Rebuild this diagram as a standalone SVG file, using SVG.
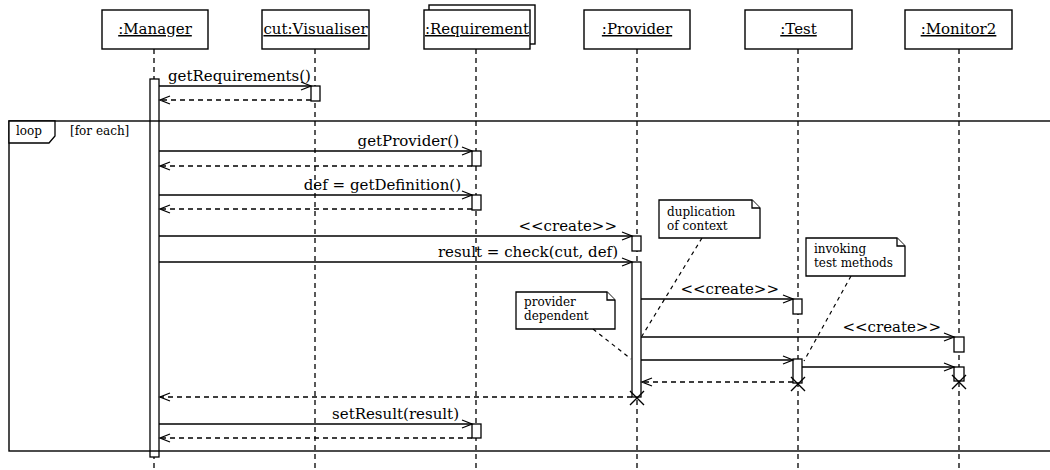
<svg xmlns="http://www.w3.org/2000/svg" width="1050" height="470" viewBox="0 0 1050 470">
<style>
.box{fill:#fff;stroke:#000;stroke-width:1.4}
.head{font-family:"DejaVu Serif",serif;font-size:15px;text-anchor:middle;text-decoration:underline}
.life{stroke:#000;stroke-width:1.3;stroke-dasharray:5,4;fill:none}
.act{fill:#fff;stroke:#000;stroke-width:1.3}
.msg{stroke:#000;stroke-width:1.3;fill:none;marker-end:url(#open)}
.ret{stroke:#000;stroke-width:1.3;fill:none;stroke-dasharray:5,4;marker-end:url(#open)}
.lbl{font-family:"DejaVu Serif",serif;font-size:15px;text-anchor:end}
.small{font-family:"DejaVu Serif",serif;font-size:12px}
.note{fill:#fff;stroke:#000;stroke-width:1.3}
.nl{stroke:#000;stroke-width:1.2;stroke-dasharray:4,4;fill:none}
.x{stroke:#000;stroke-width:1.4;fill:none}
</style>
<defs>
<marker id="open" markerUnits="userSpaceOnUse" markerWidth="12" markerHeight="10" refX="10" refY="4" orient="auto" overflow="visible">
<path d="M0,0 L10,4 L0,8" fill="none" stroke="#000" stroke-width="1.3"/>
</marker>
</defs>
<rect width="1050" height="470" fill="#fff"/>

<g id="manager">
<line class="life" x1="154" y1="49" x2="154" y2="470"/>
<rect class="box" x="102" y="10" width="106" height="39"/>
<text class="head" x="155" y="34">:Manager</text>
<rect class="act" x="150" y="79" width="9" height="378"/>
</g>
<g id="visualiser">
<line class="life" x1="315" y1="49" x2="315" y2="470"/>
<rect class="box" x="262" y="10" width="107" height="39"/>
<text class="head" x="315.5" y="34">cut:Visualiser</text>
<rect class="act" x="311" y="86" width="9" height="15"/>
</g>
<g id="requirement">
<line class="life" x1="476" y1="49" x2="476" y2="470"/>
<rect class="box" x="429" y="5" width="106" height="39"/>
<rect class="box" x="424" y="10" width="106" height="39"/>
<text class="head" x="477" y="34">:Requirement</text>
<rect class="act" x="472" y="151" width="9" height="15"/>
<rect class="act" x="472" y="195" width="9" height="15"/>
<rect class="act" x="472" y="424" width="9" height="14"/>
</g>
<g id="provider">
<line class="life" x1="637" y1="49" x2="637" y2="470"/>
<rect class="box" x="584" y="10" width="106" height="39"/>
<text class="head" x="637" y="34">:Provider</text>
<rect class="act" x="632" y="236" width="9" height="15"/>
<rect class="act" x="632" y="262" width="9" height="135"/>
<path class="x" d="M630,391 L644,405 M644,391 L630,405"/>
</g>
<g id="test">
<line class="life" x1="798" y1="49" x2="798" y2="470"/>
<rect class="box" x="745" y="10" width="107" height="39"/>
<text class="head" x="798.5" y="34">:Test</text>
<rect class="act" x="793" y="299" width="9" height="15"/>
<rect class="act" x="793" y="359" width="9" height="24"/>
<path class="x" d="M791,377 L805,391 M805,377 L791,391"/>
</g>
<g id="monitor2">
<line class="life" x1="959" y1="49" x2="959" y2="470"/>
<rect class="box" x="905" y="10" width="107" height="39"/>
<text class="head" x="958.5" y="34">:Monitor2</text>
<rect class="act" x="954" y="337" width="10" height="15"/>
<rect class="act" x="954" y="367" width="10" height="14"/>
<path class="x" d="M952,375 L966,389 M966,375 L952,389"/>
</g>

<g id="loop">
<rect x="9" y="121" width="1060" height="330" fill="none" stroke="#000" stroke-width="1.4"/>
<path d="M9,121 H55 V136 L49,143 H9 Z" fill="#fff" stroke="#000" stroke-width="1.3"/>
<text class="small" x="16" y="135">loop</text>
<text class="small" x="70" y="135">[for each]</text>
</g>

<g id="connectors">
<line class="msg" x1="159" y1="86" x2="311" y2="86"/>
<text class="lbl" x="168" y="81" style="text-anchor:start">getRequirements()</text>
<line class="ret" x1="311" y1="100" x2="160" y2="100"/>
<line class="msg" x1="159" y1="151" x2="472" y2="151"/>
<text class="lbl" x="459" y="146">getProvider()</text>
<line class="ret" x1="472" y1="166" x2="160" y2="166"/>
<line class="msg" x1="159" y1="195" x2="472" y2="195"/>
<text class="lbl" x="461" y="190">def = getDefinition()</text>
<line class="ret" x1="472" y1="209" x2="160" y2="209"/>
<line class="msg" x1="159" y1="236" x2="632" y2="236"/>
<text class="lbl" x="617" y="231">&lt;&lt;create&gt;&gt;</text>
<line class="msg" x1="159" y1="262" x2="632" y2="262"/>
<text class="lbl" x="618" y="257">result = check(cut, def)</text>
<line class="msg" x1="641" y1="299" x2="793" y2="299"/>
<text class="lbl" x="779" y="294">&lt;&lt;create&gt;&gt;</text>
<line class="msg" x1="641" y1="337" x2="954" y2="337"/>
<text class="lbl" x="941" y="332">&lt;&lt;create&gt;&gt;</text>
<line class="msg" x1="641" y1="360" x2="793" y2="360"/>
<line class="msg" x1="802" y1="367" x2="954" y2="367"/>
<line class="ret" x1="793" y1="382" x2="642" y2="382"/>
<line class="ret" x1="632" y1="397" x2="160" y2="397"/>
<line class="msg" x1="159" y1="424" x2="472" y2="424"/>
<text class="lbl" x="459" y="419">setResult(result)</text>
<line class="ret" x1="472" y1="438" x2="160" y2="438"/>
<line class="nl" x1="702" y1="238" x2="642" y2="336"/>
<line class="nl" x1="851" y1="276" x2="804" y2="361"/>
<line class="nl" x1="593" y1="329" x2="631" y2="359"/>
</g>

<g id="note-duplication">
<path class="note" d="M659,200 H752 L760,208 V238 H659 Z"/>
<path class="note" d="M752,200 V208 H760" fill="none"/>
<text class="small" x="667" y="216">duplication</text>
<text class="small" x="667" y="230">of context</text>
</g>
<g id="note-invoking">
<path class="note" d="M806,238 H897 L905,246 V276 H806 Z"/>
<path class="note" d="M897,238 V246 H905" fill="none"/>
<text class="small" x="814" y="253">invoking</text>
<text class="small" x="814" y="267">test methods</text>
</g>
<g id="note-provider">
<path class="note" d="M516,292 H607 L615,300 V329 H516 Z"/>
<path class="note" d="M607,292 V300 H615" fill="none"/>
<text class="small" x="524" y="306">provider</text>
<text class="small" x="524" y="320">dependent</text>
</g>
</svg>
